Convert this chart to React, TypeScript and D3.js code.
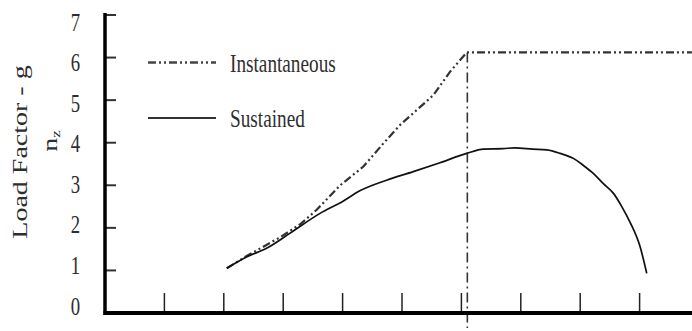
import React from "react";
import * as d3 from "d3";

// Load factor envelope: x is an unlabeled speed scale, y is n_z in g.
const yTicks = [0, 1, 2, 3, 4, 5, 6, 7];
const xTicks = [1, 2, 3, 4, 5, 6, 7, 8, 9];

const sustainedX = [2.05, 2.39, 2.72, 3.11, 3.62, 4.0, 4.29, 4.74, 5.19, 5.64, 6.09, 6.37, 6.7, 6.9, 7.2, 7.44, 7.66, 7.9, 8.05, 8.22, 8.39, 8.56, 8.7, 8.84, 9.01, 9.12];
const sustainedY = [1.05, 1.32, 1.52, 1.87, 2.34, 2.62, 2.87, 3.12, 3.32, 3.53, 3.75, 3.85, 3.86, 3.88, 3.85, 3.83, 3.75, 3.62, 3.47, 3.28, 3.04, 2.81, 2.5, 2.13, 1.55, 0.93];

const instantX = [2.05, 2.4, 2.95, 3.3, 3.56, 3.96, 4.35, 4.69, 4.97, 5.25, 5.53, 5.81, 6.09, 9.88];
const instantY = [1.05, 1.35, 1.78, 2.1, 2.42, 3.0, 3.44, 3.99, 4.42, 4.77, 5.12, 5.67, 6.12, 6.12];

// Corner speed where the two limits meet
const cornerX = [6.1, 6.1];
const cornerY = [6.12, -0.35];

const legendLabels = ["Instantaneous", "Sustained"];

const W = 692;
const H = 331;
const FONT = "'Liberation Serif', 'Times New Roman', serif";
const SQUEEZE = 0.75;
const INK = "#2e2e2e";
const DASH_DOT_DOT = "8,3,2,3,2,3";

export default function App() {
  const x = d3.scaleLinear().domain([0, 10]).range([105, 699]);
  const y = d3.scaleLinear().domain([0, 7]).range([313, 15]);
  // tick numerals sit on a slightly tighter spacing than the tick marks
  const yLabel = d3.scaleLinear().domain([0, 7]).range([306, 22]);

  const line = d3
    .line<[number, number]>()
    .x((d) => x(d[0]))
    .y((d) => y(d[1]));
  const smooth = d3
    .line<[number, number]>()
    .x((d) => x(d[0]))
    .y((d) => y(d[1]))
    .curve(d3.curveMonotoneX);

  const sustained = sustainedX.map((v, i) => [v, sustainedY[i]] as [number, number]);
  const instant = instantX.map((v, i) => [v, instantY[i]] as [number, number]);
  const corner = cornerX.map((v, i) => [v, cornerY[i]] as [number, number]);

  const legendY = [62.5, 118];
  const legendText = [71.5, 127];

  return (
    <svg
      width={W}
      height={H}
      style={{ position: "absolute", left: 0, top: 0, background: "#fff" }}
      fontFamily={FONT}
    >
      {/* vertical corner-speed line */}
      <path d={line(corner) || ""} fill="none" stroke="#333" strokeWidth={1.6} strokeDasharray="10,4,2,4" />

      {/* instantaneous limit */}
      <path d={line(instant) || ""} fill="none" stroke="#333" strokeWidth={2.2} strokeDasharray={DASH_DOT_DOT} />

      {/* sustained limit */}
      <path d={smooth(sustained) || ""} fill="none" stroke="#111" strokeWidth={1.7} />

      {/* x ticks */}
      {xTicks.map((t) => (
        <line key={"xt" + t} x1={x(t)} x2={x(t)} y1={y(0)} y2={y(0) - 20} stroke="#222" strokeWidth={1.5} />
      ))}

      {/* y ticks */}
      {yTicks.map((t) => (
        <line key={"yt" + t} x1={x(0)} x2={x(0) + 11} y1={y(t)} y2={y(t)} stroke="#333" strokeWidth={2} />
      ))}

      {/* axes */}
      <line x1={x(0)} x2={x(0)} y1={y(7) - 2} y2={y(0) + 2} stroke="#000" strokeWidth={3.5} />
      <line x1={x(0) - 1.5} x2={W} y1={y(0)} y2={y(0)} stroke="#000" strokeWidth={4} />

      {/* y tick numerals */}
      {yTicks.map((t) => (
        <text
          key={"yl" + t}
          transform={`translate(80,${yLabel(t) + 8.5}) scale(${SQUEEZE},1)`}
          textAnchor="end"
          fontSize={25}
          fill={INK}
        >
          {t}
        </text>
      ))}

      {/* axis title */}
      <text
        transform={`translate(27,152) scale(0.78,1) rotate(-90)`}
        textAnchor="middle"
        fontSize={28}
        fill={INK}
      >
        Load Factor - g
      </text>
      <text
        transform={`translate(57,141) scale(0.78,1) rotate(-90)`}
        textAnchor="middle"
        fontSize={28}
        fill={INK}
      >
        <tspan>n</tspan>
        <tspan fontSize={17} dy={4}>z</tspan>
      </text>

      {/* legend */}
      <line x1={148} x2={216} y1={legendY[0]} y2={legendY[0]} stroke="#444" strokeWidth={2.4} strokeDasharray={DASH_DOT_DOT} />
      <line x1={148} x2={216} y1={legendY[1]} y2={legendY[1]} stroke="#333" strokeWidth={2.2} />
      {legendLabels.map((lbl, i) => (
        <text
          key={lbl}
          transform={`translate(230,${legendText[i]}) scale(0.74,1)`}
          fontSize={26}
          fill={INK}
        >
          {lbl}
        </text>
      ))}
    </svg>
  );
}
